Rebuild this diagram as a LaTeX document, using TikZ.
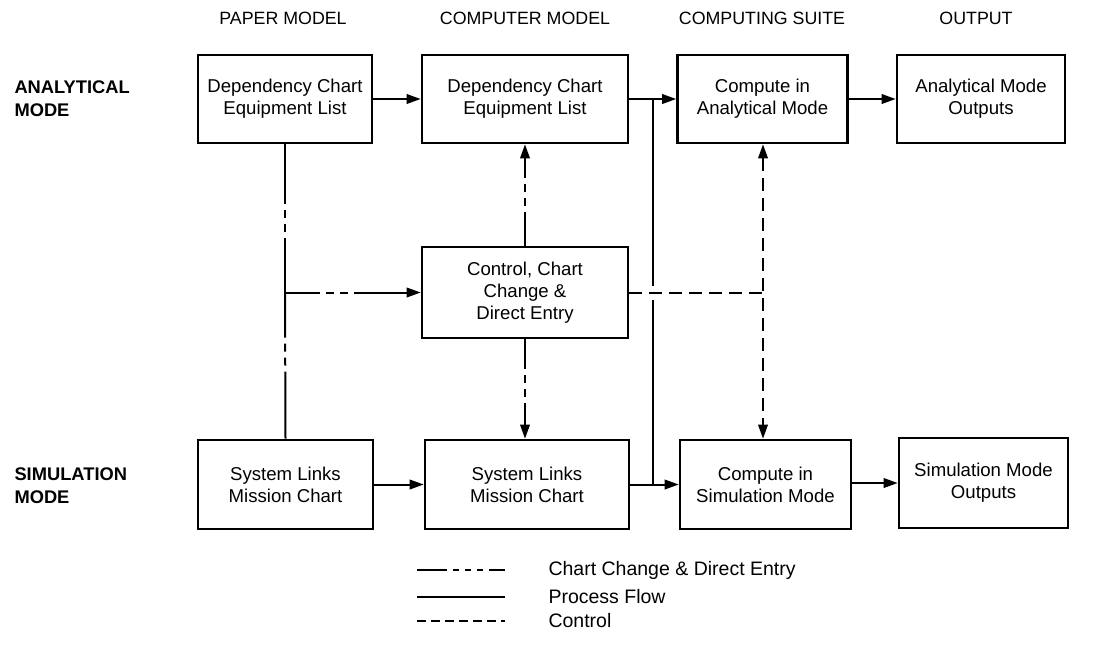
\documentclass[tikz,border=0pt]{standalone}
\usepackage{fontspec}
\setmainfont{Liberation Sans}
\usetikzlibrary{arrows.meta}
\begin{document}
\begin{tikzpicture}[x=1pt,y=-1pt,
  box/.style={draw, line width=2.6pt, align=center, inner sep=0pt,
    font=\fontsize{18.6}{22}\selectfont},
  head/.style={font=\fontsize{17.8}{20}\selectfont},
  rowlab/.style={anchor=west, align=left, font=\fontsize{18.3}{23}\selectfont\bfseries},
  legtext/.style={anchor=west, font=\fontsize{19.5}{22}\selectfont},
  flow/.style={line width=2pt},
  tip/.style={-{Triangle[length=14pt,width=9.5pt]}},
  ctrl/.style={line width=2pt, dash pattern=on 13pt off 7pt},
  chartline/.style={line width=2pt, dash pattern=on #1 off 6pt on 8pt off 6pt on 8pt off 6pt on 400pt off 1pt},
  chartline/.default=30pt
]
\useasboundingbox (0,0) rectangle (1110,654);

% headers
\node[head] (h1) at (283,18) {PAPER MODEL};
\node[head] (h2) at (525,18) {COMPUTER MODEL};
\node[head] (h3) at (762,18) {COMPUTING SUITE};
\node[head] (h4) at (976,18) {OUTPUT};

% row labels
\node[rowlab] (r1) at (11,98.5) {ANALYTICAL\\MODE};
\node[rowlab] (r2) at (11,486) {SIMULATION\\MODE};

% analytical row
\node[box, minimum width=174pt, minimum height=88pt] (pmA) at (285,99) {Dependency Chart\\Equipment List};
\node[box, minimum width=206pt, minimum height=88pt] (cmA) at (525,99) {Dependency Chart\\Equipment List};
\node[box, minimum width=170pt, minimum height=88pt] (caA) at (762.5,99) {Compute in\\Analytical Mode};
\node[box, minimum width=168pt, minimum height=88pt] (oA) at (981,99) {Analytical Mode\\Outputs};

% control box
\node[box, minimum width=206pt, minimum height=91pt] (ctl) at (525,292.5) {Control, Chart\\Change \&\\Direct Entry};

% simulation row
\node[box, minimum width=175pt, minimum height=89pt] (pmS) at (285.5,484.5) {System Links\\Mission Chart};
\node[box, minimum width=204pt, minimum height=89pt] (cmS) at (527,484.5) {System Links\\Mission Chart};
\node[box, minimum width=171pt, minimum height=89pt] (csS) at (765.5,484.5) {Compute in\\Simulation Mode};
\node[box, minimum width=169pt, minimum height=90pt] (oS) at (983.5,483) {Simulation Mode\\Outputs};

% junction coordinates
\coordinate (jp) at (285,292.5);
\coordinate (j1) at (653,99);
\coordinate (j2) at (653,484.5);
\coordinate (j3) at (763,292.5);

% process flow
\draw[flow,tip] (pmA) -- (cmA);
\draw[flow,tip] (cmA) -- (caA);
\draw[flow,tip] (caA) -- (oA);
\draw[flow,tip] (pmS) -- (cmS);
\draw[flow,tip] (cmS.east |- j2) -- (csS.west |- j2);
\draw[flow,tip] (csS.east |- oS) -- (oS);
\draw[flow] (j1) -- ([yshift=7pt]j1 |- j3);
\draw[flow] ([yshift=-7pt]j1 |- j3) -- (j2);

% chart change & direct entry
\draw[chartline=60pt] (pmA.south) -- (jp);
\draw[chartline=45pt] (jp) -- (pmS.north);
\draw[chartline=35pt,tip] (jp) -- (ctl.west);
\draw[chartline=34pt,tip] (ctl.north) -- (cmA.south);
\draw[chartline=30pt,tip] (ctl.south) -- (cmS.north -| ctl.south);

% control
\draw[ctrl] (ctl.east) -- (j3);
\draw[ctrl,{Triangle[length=14pt,width=9.5pt]}-{Triangle[length=14pt,width=9.5pt]}] (caA.south -| j3) -- (csS.north -| j3);

% legend
\coordinate (l1a) at (417,570); \coordinate (l1b) at (505,570);
\coordinate (l2a) at (417,597); \coordinate (l2b) at (505,597);
\coordinate (l3a) at (417,621); \coordinate (l3b) at (505,621);
\draw[line width=1.7pt, dash pattern=on 30pt off 6pt on 6pt off 6pt on 6pt off 6pt on 6pt off 6pt on 400pt off 1pt] (l1a) -- (l1b);
\draw[line width=1.7pt] (l2a) -- (l2b);
\draw[line width=1.7pt, dash pattern=on 9pt off 5pt] (l3a) -- (l3b);
\node[legtext] (t1) at (545,570) {Chart Change \& Direct Entry};
\node[legtext] (t2) at (545,597) {Process Flow};
\node[legtext] (t3) at (545,621) {Control};
\end{tikzpicture}
\end{document}
